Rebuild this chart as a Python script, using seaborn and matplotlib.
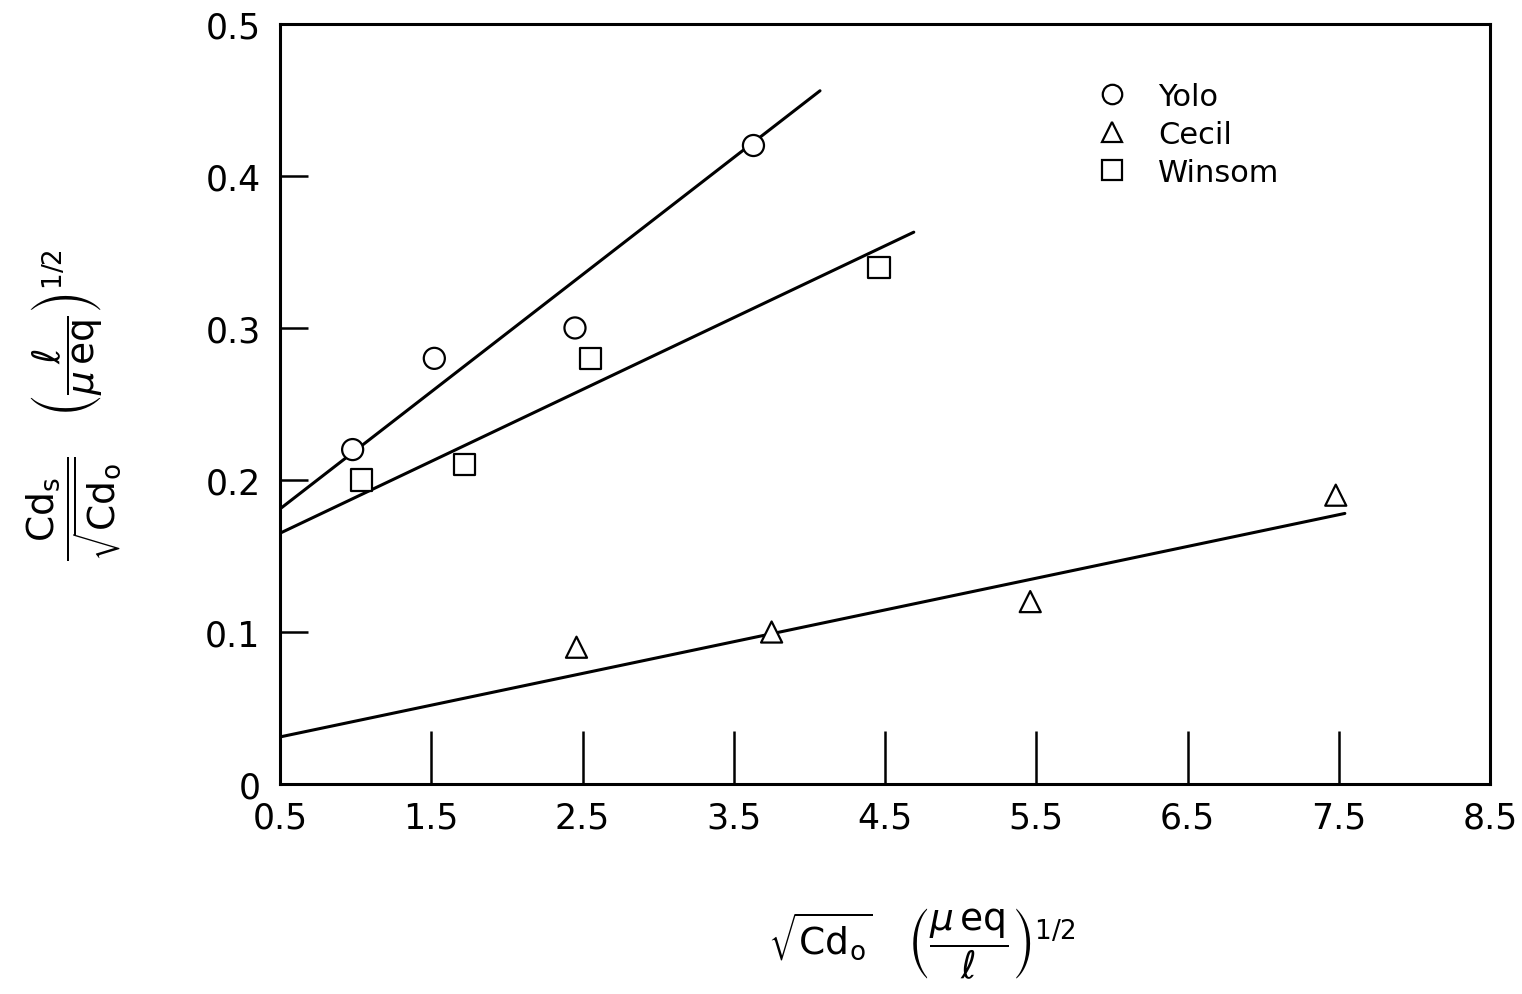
import matplotlib
matplotlib.use("Agg")
import matplotlib.pyplot as plt
import seaborn as sns
import pandas as pd

sns.set_theme(style="ticks")
plt.rcParams['font.family'] = ['DejaVu Sans']
plt.rcParams['mathtext.fontset'] = 'dejavusans'
plt.rcParams['text.color'] = 'black'

# Data points
yolo_x = [0.98, 1.52, 2.45, 3.63]
yolo_y = [0.22, 0.28, 0.30, 0.42]
cecil_x = [2.46, 3.75, 5.46, 7.48]
cecil_y = [0.09, 0.10, 0.12, 0.19]
winsom_x = [1.04, 1.72, 2.55, 4.46]
winsom_y = [0.20, 0.21, 0.28, 0.34]

# Fitted lines (end points)
yolo_line_x = [0.5, 4.07]
yolo_line_y = [0.181, 0.456]
winsom_line_x = [0.5, 4.69]
winsom_line_y = [0.165, 0.363]
cecil_line_x = [0.5, 7.54]
cecil_line_y = [0.031, 0.178]

x_ticks = [0.5, 1.5, 2.5, 3.5, 4.5, 5.5, 6.5, 7.5, 8.5]
x_tick_labels = ["0.5", "1.5", "2.5", "3.5", "4.5", "5.5", "6.5", "7.5", "8.5"]
y_ticks = [0, 0.1, 0.2, 0.3, 0.4, 0.5]
y_tick_labels = ["0", "0.1", "0.2", "0.3", "0.4", "0.5"]

pts = pd.DataFrame({
    "x": yolo_x + cecil_x + winsom_x,
    "y": yolo_y + cecil_y + winsom_y,
    "soil": ["Yolo"] * len(yolo_x) + ["Cecil"] * len(cecil_x) + ["Winsom"] * len(winsom_x),
})
lines = pd.DataFrame({
    "x": yolo_line_x + winsom_line_x + cecil_line_x,
    "y": yolo_line_y + winsom_line_y + cecil_line_y,
    "soil": ["Yolo"] * 2 + ["Winsom"] * 2 + ["Cecil"] * 2,
})

fig = plt.figure(figsize=(15.22, 9.95), dpi=100)
ax = fig.add_axes([0.184, 0.211, 0.795, 0.764])

sns.lineplot(data=lines, x="x", y="y", units="soil", estimator=None,
             color="black", linewidth=2.2, ax=ax, legend=False, sort=False)

sns.scatterplot(data=pts, x="x", y="y", style="soil",
                markers={"Yolo": "o", "Cecil": "^", "Winsom": "s"},
                style_order=["Yolo", "Cecil", "Winsom"],
                s=230, facecolor="white", edgecolor="black", linewidth=1.6,
                color="white", ax=ax, zorder=3)

ax.set_xlim(0.5, 8.5)
ax.set_ylim(0, 0.5)
ax.set_xticks(x_ticks)
ax.set_xticklabels(x_tick_labels)
ax.set_yticks(y_ticks)
ax.set_yticklabels(y_tick_labels)
ax.tick_params(axis="x", direction="in", length=38, width=1.8, labelsize=25, pad=12, colors="black")
ax.tick_params(axis="y", direction="in", length=20, width=1.8, labelsize=25, pad=14, colors="black")
for sp in ax.spines.values():
    sp.set_linewidth(2.2)
    sp.set_color("black")
    sp.set_visible(True)

ax.set_xlabel(r"$\sqrt{\mathrm{Cd_o}}\quad\left(\dfrac{\mu\,\mathrm{eq}}{\ell}\right)^{1/2}$",
              fontsize=27, color="black")
ax.xaxis.set_label_coords(0.53, -0.16)
ax.set_ylabel(r"$\dfrac{\mathrm{Cd_s}}{\sqrt{\mathrm{Cd_o}}}\quad\left(\dfrac{\ell}{\mu\,\mathrm{eq}}\right)^{1/2}$",
              fontsize=27, color="black")
ax.yaxis.set_label_coords(-0.13, 0.5)

leg = ax.legend(loc="upper left", bbox_to_anchor=(0.64, 0.96), frameon=False,
                fontsize=22, handletextpad=0.5, labelspacing=0.3, markerscale=1.0)
for h in leg.legend_handles:
    h.set_markerfacecolor("white")
    h.set_markeredgecolor("black")
    h.set_markersize(14)
    h.set_markeredgewidth(1.6)
for t in leg.get_texts():
    t.set_color("black")

fig.savefig("out.png", dpi=100)
